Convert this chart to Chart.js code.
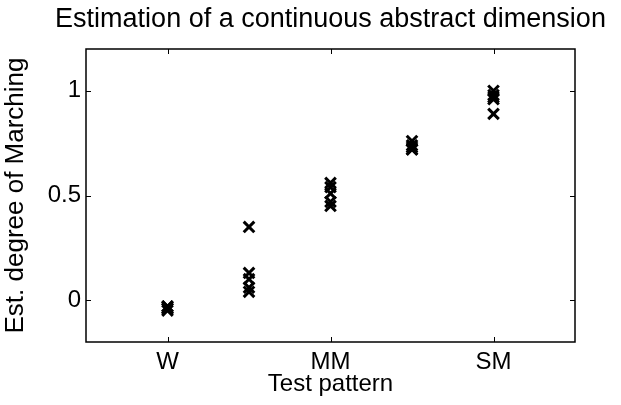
<!DOCTYPE html>
<html>
<head>
<meta charset="utf-8">
<script src="https://cdn.jsdelivr.net/npm/chart.js@4"></script>
<style>
  html, body { margin: 0; padding: 0; background: #fff; }
  #wrap { width: 621px; height: 405px; }
</style>
</head>
<body>
<div id="wrap"><canvas id="graph"></canvas></div>
<script>
// test patterns along x (1..5), only 1, 3, 5 are labelled
const patternPos = [1, 2, 3, 4, 5]
const tickPos = [1, 3, 5]
const tickLabels = ['W', 'MM', 'SM']

// estimated degree of marching per pattern (one value per subject)
const estW   = [-0.03, -0.04, -0.05, -0.04, -0.03]
const est2   = [0.35, 0.13, 0.10, 0.06, 0.04]
const estMM  = [0.56, 0.54, 0.51, 0.47, 0.45]
const est4   = [0.76, 0.74, 0.73, 0.72, 0.72]
const estSM  = [1.00, 0.98, 0.97, 0.96, 0.89]

const yTicks = [0, 0.5, 1]

const allEst = [estW, est2, estMM, est4, estSM]
const points = []
allEst.forEach((vals, i) => {
    vals.forEach(v => points.push({ x: patternPos[i], y: v }))
})

const font = "'Liberation Sans', Arial, Helvetica, sans-serif"

// MATLAB-ish box with inward ticks and centred title
const boxPlugin = {
    id: 'box',
    afterDraw(chart) {
        const { ctx, chartArea: a, scales } = chart
        ctx.save()
        ctx.strokeStyle = '#000'
        ctx.lineWidth = 1.5
        ctx.strokeRect(a.left, a.top, a.right - a.left, a.bottom - a.top)
        ctx.lineWidth = 1
        const len = 5
        tickPos.forEach(v => {
            const px = Math.round(scales.x.getPixelForValue(v)) + 0.5
            ctx.beginPath()
            ctx.moveTo(px, a.bottom); ctx.lineTo(px, a.bottom - len)
            ctx.moveTo(px, a.top); ctx.lineTo(px, a.top + len)
            ctx.stroke()
        })
        yTicks.forEach(v => {
            const py = Math.round(scales.y.getPixelForValue(v)) + 0.5
            ctx.beginPath()
            ctx.moveTo(a.left, py); ctx.lineTo(a.left + len, py)
            ctx.moveTo(a.right, py); ctx.lineTo(a.right - len, py)
            ctx.stroke()
        })
        ctx.fillStyle = '#000'
        ctx.font = '27px ' + font
        ctx.textAlign = 'center'
        ctx.textBaseline = 'middle'
        ctx.fillText('Estimation of a continuous abstract dimension', (a.left + a.right) / 2, 20)
        ctx.restore()
    }
}

const chart = new Chart(document.getElementById('graph'), {
    type: 'scatter',
    data: {
        datasets: [{
            data: points,
            pointStyle: 'crossRot',
            pointRadius: 7.5,
            pointBorderWidth: 3,
            borderColor: '#000',
            backgroundColor: '#000'
        }]
    },
    options: {
        responsive: true,
        maintainAspectRatio: false,
        animation: false,
        layout: { padding: { top: 49, right: 46, left: 0, bottom: 0 } },
        plugins: { legend: { display: false }, tooltip: { enabled: false } },
        scales: {
            x: {
                type: 'linear',
                min: 0, max: 6,
                afterBuildTicks: s => { s.ticks = tickPos.map(v => ({ value: v })) },
                afterFit: s => { s.height = 63 },
                grid: { display: false, drawTicks: false },
                border: { display: false },
                ticks: {
                    color: '#000',
                    font: { family: font, size: 24 },
                    padding: 6,
                    maxRotation: 0,
                    callback: v => tickLabels[tickPos.indexOf(v)]
                },
                title: {
                    display: true,
                    text: 'Test pattern',
                    color: '#000',
                    font: { family: font, size: 24 },
                    padding: { top: 0, bottom: 6 }
                }
            },
            y: {
                min: -0.2, max: 1.2,
                afterBuildTicks: s => { s.ticks = yTicks.map(v => ({ value: v })) },
                afterFit: s => { s.width = 86 },
                grid: { display: false, drawTicks: false },
                border: { display: false },
                ticks: {
                    color: '#000',
                    font: { family: font, size: 24 },
                    padding: 5,
                    callback: v => String(v)
                },
                title: {
                    display: true,
                    text: 'Est. degree of Marching',
                    color: '#000',
                    font: { family: font, size: 26 },
                    padding: { top: 0, bottom: 0 }
                }
            }
        }
    },
    plugins: [boxPlugin]
})
</script>
</body>
</html>
